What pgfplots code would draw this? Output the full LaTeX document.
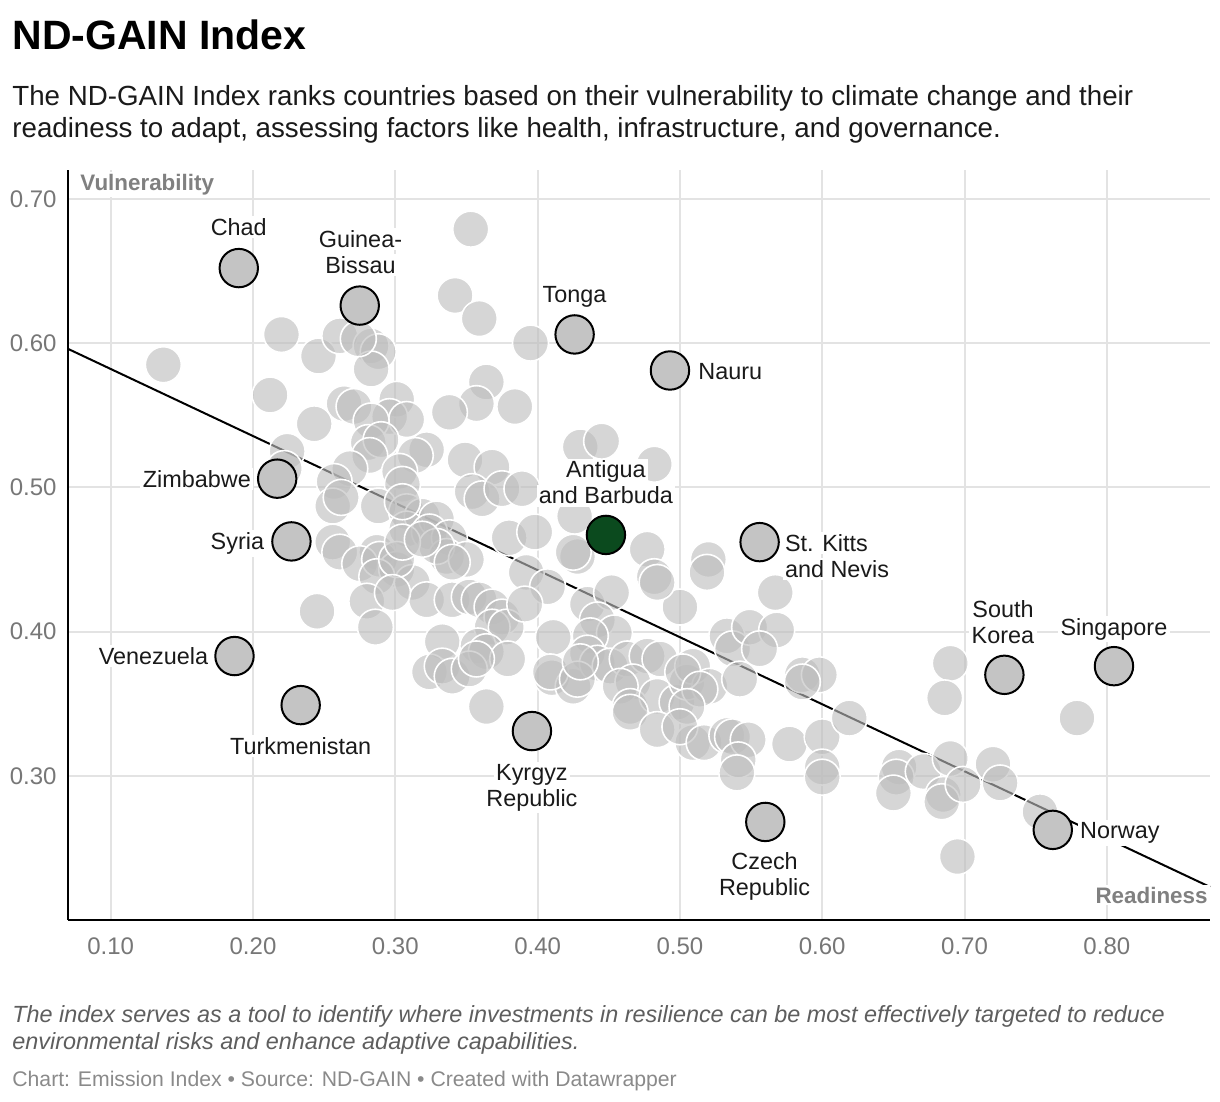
\documentclass[border=0pt]{standalone}
\usepackage{fontspec}
\setmainfont{Liberation Sans}
\usepackage{pgfplots}
\pgfplotsset{compat=1.18}
\usepackage{pgfplotstable}

\definecolor{ptgray}{HTML}{BDBDBD}
\definecolor{hlgray}{HTML}{C4C4C4}
\definecolor{antigua}{HTML}{0B4A1E}
\definecolor{gridc}{HTML}{E3E3E3}
\definecolor{tickc}{HTML}{777777}
\definecolor{labc}{HTML}{1A1A1A}
\definecolor{axlab}{HTML}{808080}
\definecolor{notec}{HTML}{5E5E5E}
\definecolor{credc}{HTML}{8A8A8A}

\pgfplotstableread{
x y
0.137 0.585
0.220 0.606
0.246 0.591
0.261 0.605
0.212 0.564
0.353 0.679
0.342 0.633
0.359 0.617
0.395 0.600
0.283 0.598
0.288 0.594
0.283 0.582
0.364 0.573
0.357 0.558
0.338 0.552
0.384 0.556
0.264 0.558
0.271 0.556
0.301 0.561
0.296 0.549
0.308 0.547
0.283 0.546
0.243 0.544
0.274 0.603
0.281 0.531
0.290 0.533
0.282 0.522
0.322 0.526
0.314 0.522
0.303 0.511
0.305 0.502
0.224 0.525
0.222 0.513
0.268 0.513
0.257 0.504
0.256 0.487
0.262 0.493
0.288 0.487
0.308 0.483
0.319 0.480
0.308 0.471
0.329 0.478
0.324 0.469
0.338 0.465
0.349 0.519
0.368 0.514
0.354 0.497
0.361 0.492
0.375 0.499
0.389 0.499
0.380 0.465
0.398 0.469
0.256 0.462
0.287 0.455
0.336 0.452
0.329 0.459
0.305 0.490
0.261 0.455
0.275 0.447
0.289 0.450
0.301 0.443
0.287 0.438
0.312 0.434
0.350 0.450
0.430 0.528
0.445 0.532
0.482 0.516
0.426 0.480
0.428 0.452
0.477 0.457
0.482 0.438
0.520 0.450
0.519 0.441
0.392 0.441
0.301 0.450
0.305 0.462
0.319 0.464
0.340 0.448
0.425 0.455
0.322 0.422
0.340 0.422
0.352 0.424
0.359 0.422
0.368 0.417
0.375 0.410
0.368 0.403
0.378 0.403
0.245 0.414
0.280 0.421
0.286 0.403
0.333 0.393
0.358 0.390
0.364 0.386
0.379 0.381
0.324 0.372
0.333 0.376
0.340 0.369
0.352 0.374
0.364 0.348
0.407 0.431
0.391 0.419
0.411 0.396
0.410 0.368
0.425 0.362
0.435 0.419
0.452 0.427
0.442 0.408
0.454 0.399
0.437 0.397
0.435 0.385
0.442 0.378
0.409 0.372
0.428 0.367
0.451 0.376
0.463 0.381
0.477 0.383
0.486 0.381
0.467 0.365
0.458 0.362
0.465 0.348
0.484 0.355
0.498 0.351
0.505 0.365
0.509 0.376
0.521 0.362
0.533 0.397
0.537 0.388
0.549 0.403
0.568 0.401
0.556 0.388
0.542 0.367
0.500 0.417
0.567 0.427
0.298 0.427
0.484 0.434
0.357 0.381
0.430 0.379
0.502 0.372
0.465 0.344
0.484 0.332
0.509 0.323
0.586 0.370
0.598 0.370
0.586 0.365
0.514 0.360
0.505 0.348
0.500 0.334
0.517 0.323
0.533 0.328
0.537 0.327
0.548 0.325
0.541 0.311
0.540 0.302
0.577 0.322
0.600 0.327
0.600 0.306
0.600 0.299
0.619 0.340
0.690 0.378
0.686 0.354
0.779 0.340
0.654 0.306
0.652 0.299
0.650 0.288
0.671 0.303
0.690 0.312
0.685 0.287
0.684 0.282
0.699 0.294
0.720 0.308
0.725 0.295
0.753 0.275
0.695 0.244
}\others

\pgfplotstableread{
x y
0.190 0.652
0.275 0.626
0.426 0.606
0.493 0.581
0.217 0.506
0.227 0.4625
0.556 0.462
0.187 0.383
0.2335 0.349
0.396 0.331
0.560 0.268
0.728 0.370
0.805 0.376
0.762 0.2625
}\highlighted

\pgfplotstableread{
x y
0.448 0.467
}\antiguatab

\tikzset{lab/.style={font=\fontsize{11.7}{13}\selectfont, text=labc, fill=white, inner sep=1.2pt}}

\begin{document}
\begin{tikzpicture}
\useasboundingbox[fill=white] (0,0) rectangle (610pt,-551pt);
\begin{axis}[
  at={(34pt,-460pt)}, anchor=south west,
  scale only axis, width=571pt, height=375pt,
  xmin=0.07, xmax=0.8725, ymin=0.2, ymax=0.72,
  axis x line*=bottom, axis y line*=left,
  axis line style={black, line width=1.1pt},
  xtick={0.1,0.2,0.3,0.4,0.5,0.6,0.7,0.8},
  xticklabels={0.10,0.20,0.30,0.40,0.50,0.60,0.70,0.80},
  ytick={0.3,0.4,0.5,0.6,0.7},
  yticklabels={0.30,0.40,0.50,0.60,0.70},
  major tick length=0pt,
  grid=major, major grid style={gridc, line width=1pt},
  tick label style={font=\fontsize{12}{14}\selectfont, text=tickc},
  xticklabel style={anchor=base, inner sep=0pt, yshift=-17pt},
  yticklabel style={anchor=east, inner sep=0pt, xshift=-5.5pt},
  clip=false,
]
\addplot[only marks, mark=*, mark size=9pt,
  mark options={fill=ptgray, fill opacity=0.62, draw=white, line width=0.8pt}]
  table {\others};
\addplot[black, line width=1pt] coordinates {(0.07,0.596) (0.8725,0.2229)};
\addplot[only marks, mark=*, mark size=9.6pt,
  mark options={fill=hlgray, draw=black, line width=1pt}]
  table {\highlighted};
\addplot[only marks, mark=*, mark size=9.6pt,
  mark options={fill=antigua, draw=black, line width=1pt}]
  table {\antiguatab};

\coordinate (chad) at (axis cs:0.190,0.652);
\coordinate (guinea) at (axis cs:0.2755,0.626);
\coordinate (tonga) at (axis cs:0.426,0.606);
\coordinate (antig) at (axis cs:0.448,0.467);
\coordinate (korea) at (axis cs:0.727,0.370);
\coordinate (singa) at (axis cs:0.805,0.376);
\coordinate (turkm) at (axis cs:0.2335,0.349);
\coordinate (kyrg) at (axis cs:0.396,0.331);
\coordinate (czech) at (axis cs:0.5595,0.268);
\coordinate (nauru) at (axis cs:0.493,0.581);
\coordinate (kitts) at (axis cs:0.556,0.462);
\coordinate (norway) at (axis cs:0.762,0.2625);
\coordinate (zimb) at (axis cs:0.217,0.506);
\coordinate (syria) at (axis cs:0.227,0.4625);
\coordinate (venez) at (axis cs:0.187,0.383);
\end{axis}

% labels above
\node[lab, anchor=base, yshift=16.5pt] at (chad) {Chad};
\node[lab, anchor=base, yshift=29pt] at (guinea) {Guinea-};
\node[lab, anchor=base, yshift=16pt] at (guinea) {Bissau};
\node[lab, anchor=base, yshift=16pt] at (tonga) {Tonga};
\node[lab, anchor=base, yshift=28.5pt] at (antig) {Antigua};
\node[lab, anchor=base, yshift=15.5pt] at (antig) {and Barbuda};
\node[lab, anchor=base, yshift=28.5pt] at (korea) {South};
\node[lab, anchor=base, yshift=15.5pt] at (korea) {Korea};
\node[lab, anchor=base, yshift=15.5pt] at (singa) {Singapore};
% labels below
\node[lab, anchor=base, yshift=-24.5pt] at (turkm) {Turkmenistan};
\node[lab, anchor=base, yshift=-24.5pt] at (kyrg) {Kyrgyz};
\node[lab, anchor=base, yshift=-37.5pt] at (kyrg) {Republic};
\node[lab, anchor=base, yshift=-24pt] at (czech) {Czech};
\node[lab, anchor=base, yshift=-37pt] at (czech) {Republic};
% labels right
\node[lab, anchor=base west, xshift=12.8pt, yshift=-4.5pt] at (nauru) {Nauru};
\node[lab, anchor=base west, xshift=11.3pt, yshift=-4.5pt] at (kitts) {St. Kitts};
\node[lab, anchor=base west, xshift=11.3pt, yshift=-17.5pt] at (kitts) {and Nevis};
\node[lab, anchor=base west, xshift=12.3pt, yshift=-4.5pt] at (norway) {Norway};
% labels left
\node[lab, anchor=base east, xshift=-11.8pt, yshift=-4.5pt] at (zimb) {Zimbabwe};
\node[lab, anchor=base east, xshift=-12.3pt, yshift=-4pt] at (syria) {Syria};
\node[lab, anchor=base east, xshift=-11.8pt, yshift=-4pt] at (venez) {Venezuela};

% axis descriptions
\node[anchor=base west, inner sep=1pt, fill=white, font=\fontsize{11.2}{13}\selectfont\bfseries, text=axlab] at (39pt,-95pt) {Vulnerability};
\node[anchor=base east, inner sep=1pt, fill=white, font=\fontsize{11.2}{13}\selectfont\bfseries, text=axlab] at (605pt,-451.5pt) {Readiness};

% title and subtitle
\node[anchor=base west, inner sep=0pt, font=\fontsize{20.5}{24}\selectfont\bfseries, text=black] at (6pt,-25pt) {ND-GAIN Index};
\node[anchor=base west, inner sep=0pt, font=\fontsize{13.85}{16}\selectfont, text=labc] at (6pt,-52.5pt) {The ND-GAIN Index ranks countries based on their vulnerability to climate change and their};
\node[anchor=base west, inner sep=0pt, font=\fontsize{13.85}{16}\selectfont, text=labc] at (6pt,-69pt) {readiness to adapt, assessing factors like health, infrastructure, and governance.};

% notes
\node[anchor=base west, inner sep=0pt, font=\fontsize{11.7}{14}\selectfont\itshape, text=notec] at (6pt,-511pt) {The index serves as a tool to identify where investments in resilience can be most effectively targeted to reduce};
\node[anchor=base west, inner sep=0pt, font=\fontsize{11.7}{14}\selectfont\itshape, text=notec] at (6pt,-524.5pt) {environmental risks and enhance adaptive capabilities.};
\node[anchor=base west, inner sep=0pt, font=\fontsize{10.6}{13}\selectfont, text=credc] at (6pt,-543pt) {Chart: Emission Index • Source: ND-GAIN • Created with Datawrapper};
\end{tikzpicture}
\end{document}
